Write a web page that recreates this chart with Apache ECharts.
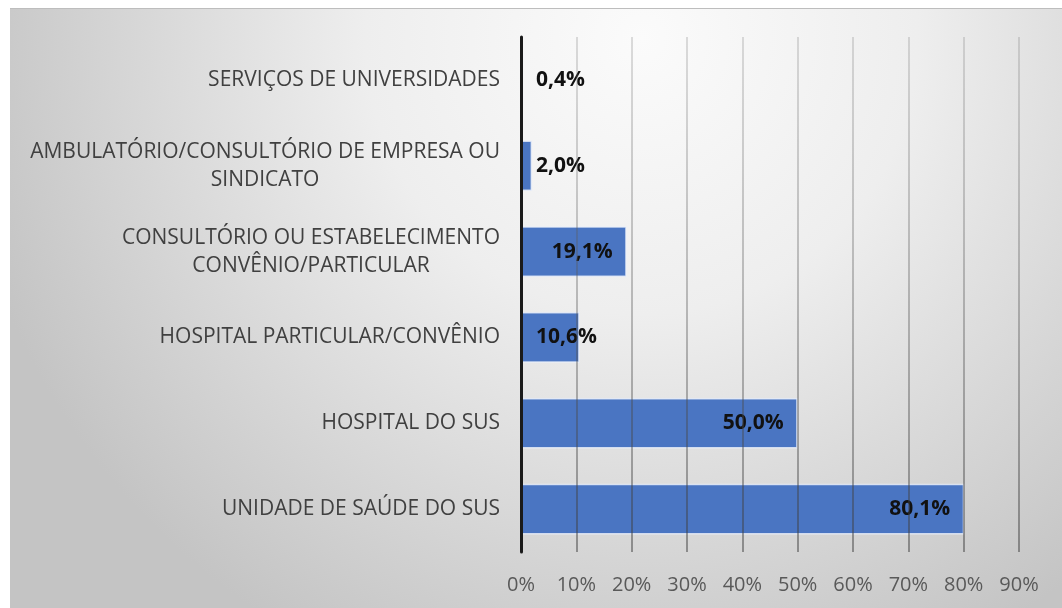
<!DOCTYPE html>
<html>
<head>
<meta charset="utf-8">
<script src="https://cdn.jsdelivr.net/npm/echarts@6/dist/echarts.min.js"></script>
<style>
  html, body { margin: 0; padding: 0; background: #fff; }
  #chart { width: 1062px; height: 608px; }
</style>
</head>
<body>
<div id="chart"></div>
<script>
// categories top to bottom
var categories = [
  'SERVIÇOS DE UNIVERSIDADES',
  'AMBULATÓRIO/CONSULTÓRIO DE EMPRESA OU\nSINDICATO',
  'CONSULTÓRIO OU ESTABELECIMENTO\nCONVÊNIO/PARTICULAR',
  'HOSPITAL PARTICULAR/CONVÊNIO',
  'HOSPITAL DO SUS',
  'UNIDADE DE SAÚDE DO SUS'
];
var values = [0.4, 2.0, 19.1, 10.6, 50.0, 80.1];
var tickLabels = ['0%', '10%', '20%', '30%', '40%', '50%', '60%', '70%', '80%', '90%'];

var chart = echarts.init(document.getElementById('chart'));

function pct(v) {
  return v.toFixed(1).replace('.', ',') + '%';
}

var barData = values.map(function (v) {
  // short bars: excel pushes the label to the start of the plot
  var small = v < 15;
  return {
    value: v,
    label: {
      position: small ? 'insideLeft' : 'insideRight',
      distance: small ? 15 : 14
    }
  };
});

var option = {
  animation: false,
  graphic: [
    {
      type: 'rect',
      z: -10,
      shape: { x: 10, y: 8, width: 1052, height: 600 },
      style: {
        fill: {
          type: 'radial', x: 0.6, y: 0.05, r: 1.15,
          colorStops: [
            { offset: 0, color: '#fbfbfb' },
            { offset: 0.4, color: '#eeeeee' },
            { offset: 1, color: '#c4c4c4' }
          ]
        },
        stroke: null
      }
    },
    {
      type: 'line', z: -9,
      shape: { x1: 10, y1: 8.5, x2: 1062, y2: 8.5 },
      style: { stroke: '#bdbdbd', lineWidth: 1 }
    }
  ],
  grid: { left: 521, right: 43, top: 37, bottom: 56 },
  xAxis: {
    type: 'value',
    min: 0,
    max: 90,
    interval: 10,
    z: 3,
    axisLine: { show: false },
    axisTick: { show: false },
    axisLabel: {
      margin: 23,
      color: '#595959',
      fontFamily: 'Open Sans',
      fontSize: 20,
      formatter: function (v) { return tickLabels[Math.round(v / 10)]; }
    },
    splitLine: {
      lineStyle: {
        width: 1.5,
        color: {
          type: 'linear', x: 0, y: 0, x2: 0, y2: 1,
          colorStops: [
            { offset: 0, color: 'rgba(110,110,110,0.3)' },
            { offset: 1, color: 'rgba(60,60,60,0.65)' }
          ]
        }
      }
    }
  },
  yAxis: {
    type: 'category',
    inverse: true,
    data: categories,
    z: 4,
    axisLine: { show: true, lineStyle: { color: '#1a1a1a', width: 3 } },
    axisTick: { show: false },
    axisLabel: {
      margin: 21,
      color: '#404040',
      fontFamily: 'Open Sans',
      fontSize: 21,
      lineHeight: 28,
      formatter: function (v) {
        return v.split('\n').map(function (s) { return '{c|' + s + '}'; }).join('\n');
      },
      rich: {
        c: { align: 'center', color: '#404040', fontFamily: 'Open Sans', fontSize: 21, lineHeight: 28 }
      }
    }
  },
  series: [{
    type: 'bar',
    data: barData,
    barCategoryGap: '41%',
    itemStyle: {
      color: '#4a75c2',
      borderColor: 'rgba(235,240,250,0.8)',
      borderWidth: 1.5
    },
    label: {
      show: true,
      color: '#111',
      fontFamily: 'Open Sans',
      fontWeight: 'bold',
      fontSize: 21,
      formatter: function (p) { return pct(p.value); }
    }
  }]
};

chart.setOption(option);
</script>
</body>
</html>
